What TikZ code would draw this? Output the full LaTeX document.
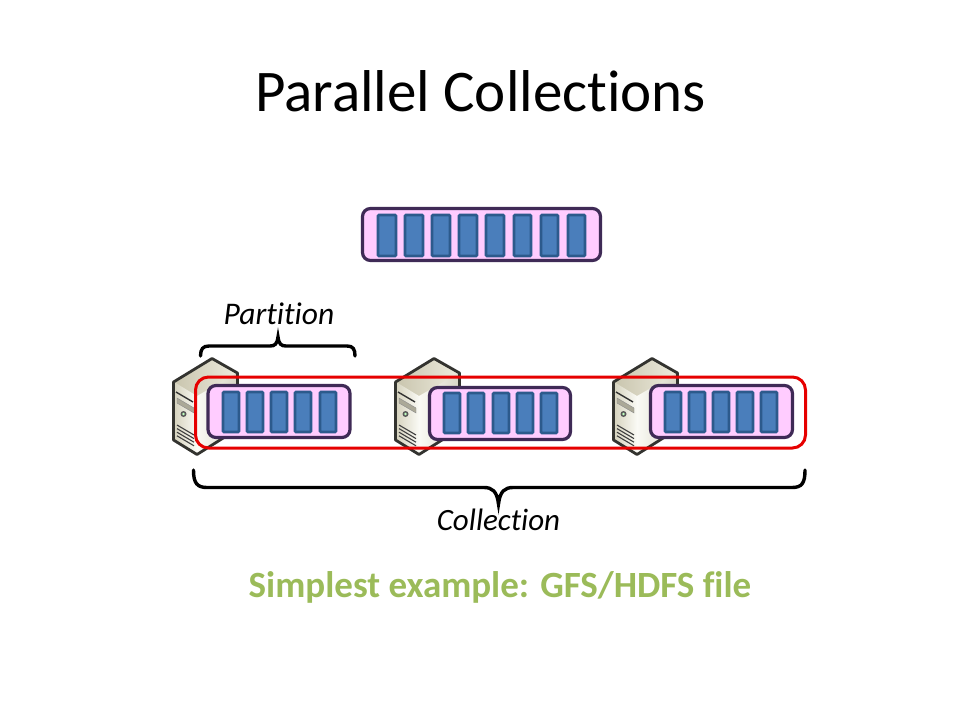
\documentclass[tikz,border=0pt]{standalone}
\usepackage{fontspec}
\setmainfont{Carlito}[Ligatures=NoCommon]
\usetikzlibrary{shadings}
\definecolor{boxfill}{HTML}{FFCCFF}
\definecolor{boxline}{HTML}{3F2A56}
\definecolor{blockfill}{HTML}{4A7EBB}
\definecolor{blockline}{HTML}{2C5A8C}
\definecolor{redline}{HTML}{E60000}
\definecolor{titlegreen}{HTML}{9BBB59}
\definecolor{srvtopA}{HTML}{C9C5AE}
\definecolor{srvtopB}{HTML}{EDEBDD}
\definecolor{srvleft}{HTML}{D6D3BE}
\definecolor{srvmid}{HTML}{FAFAF5}
\definecolor{srvright}{HTML}{D8D6C6}
\definecolor{srvedge}{HTML}{33332F}
\tikzset{
  x=1pt,y=-1pt,
  partbox/.style={draw=boxline,fill=boxfill,line width=3.2pt,rounded corners=8pt},
  block/.style={draw=blockline,fill=blockfill,line width=2.6pt,rounded corners=1pt},
  outline/.style={draw=redline,line width=3pt,rounded corners=13pt},
  brace/.style={draw=black,line width=3.4pt,line cap=round},
  pics/server/.style={code={
    \fill[srvtopB] (1,24) -- (39,1) -- (64,15) -- (64,71) -- (24,96) -- (1,82) -- cycle;
    \shade[left color=srvtopA,right color=srvtopB] (1,24) -- (39,1) -- (64,15) -- (24,40) -- cycle;
    \shade[left color=srvleft,right color=srvmid] (1,24) -- (24,38) -- (24,96) -- (1,82) -- cycle;
    \shade[left color=srvmid,right color=srvright] (24,38) -- (64,15) -- (64,71) -- (24,96) -- cycle;
    \draw[srvedge,line width=2.8pt,line join=round] (0.5,24) -- (39,0.5) -- (64.5,15) -- (64.5,71) -- (24,96.5) -- (0.5,82) -- cycle;
    \draw[black!80,line width=1.4pt] (3,34) -- (20,44);
    \fill[srvleft!80!black,draw=black!45,line width=.4pt] (4,40) -- (21,50) -- (21,55) -- (4,45) -- cycle;
    \fill[black!65] (10.5,56) circle (3);
    \fill[green!25!white] (10.5,56) circle (1.3);
    \foreach \k in {0,3.6,7.2,10.8} \draw[black!75,line width=1.1pt] (4,67+\k) -- (21,77+\k);
  }}
}
\begin{document}
\begin{tikzpicture}
\useasboundingbox (0,0) rectangle (960,720);
\node[anchor=center,font=\fontsize{59pt}{66pt}\selectfont] (title) at (480.5,91) {Parallel Collections};

% top dataset
\node[partbox,minimum width=238pt,minimum height=52pt,inner sep=0pt] (top) at (481.5,234.5) {};
\foreach \n/\a/\b in {1/378/396,2/405/423,3/432/450,4/459/477,5/486/504,6/514/531,7/541/558,8/568/585}
  \draw[block] (\a,215) rectangle (\b,256);

% servers
\pic at (173,358) {server};
\pic at (395,358) {server};
\pic at (613,358) {server};

% collection outline
\node[outline,minimum width=610pt,minimum height=71pt,inner sep=0pt] (coll) at (500.5,412.5) {};

% partitions
\node[partbox,minimum width=142pt,minimum height=52pt,inner sep=0pt] (p1) at (279,411.5) {};
\foreach \a in {223,247,271,295,320}
  \draw[block] (\a,392) rectangle (\a+16,432);
\node[partbox,minimum width=141pt,minimum height=52pt,inner sep=0pt] (p2) at (500,413.5) {};
\foreach \a in {444,468,493,517,541}
  \draw[block] (\a,393) rectangle (\a+16,433);
\node[partbox,minimum width=142pt,minimum height=52pt,inner sep=0pt] (p3) at (721.5,411.5) {};
\foreach \a in {665,689,713,737,761}
  \draw[block] (\a,392) rectangle (\a+16,432);

% braces
\draw[brace] (200.5,356) .. controls (200.5,349) and (203,346) .. (209,346)
  -- (270,346) .. controls (275,346) and (277,344) .. (278,337)
  .. controls (279,344) and (281,346) .. (286,346)
  -- (347,346) .. controls (353,346) and (355,349) .. (355,356);
\draw[brace] (193.5,470) .. controls (193.5,483) and (197,487.5) .. (207,487.5)
  -- (484,487.5) .. controls (492,487.5) and (497,491) .. (498.5,504)
  .. controls (500,491) and (505,487.5) .. (513,487.5)
  -- (792,487.5) .. controls (802,487.5) and (805,483) .. (805,470);

\node[font=\fontsize{31.5pt}{36pt}\itshape\selectfont] (partlabel) at (279,314) {Partition};
\node[font=\fontsize{31pt}{36pt}\itshape\selectfont] (colllabel) at (498.5,519.5) {Collection};
\node[font=\fontsize{37pt}{44pt}\bfseries\selectfont,text=titlegreen] (caption) at (500,587) {Simplest example: GFS/HDFS file};
\end{tikzpicture}
\end{document}
